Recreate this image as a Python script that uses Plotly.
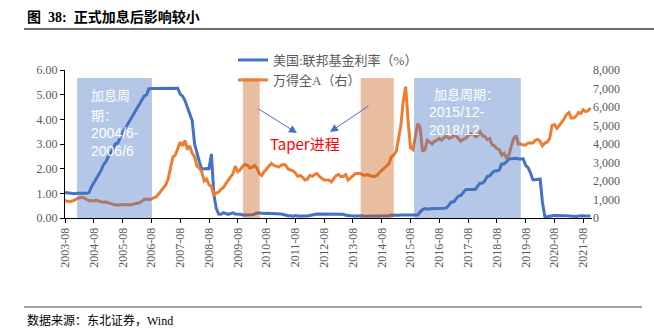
import pandas as pd
import plotly.graph_objects as go

# ---------------- data ----------------
fed_rate = [
    1.03, 1.01, 1.01, 1.00, 0.98,  # 2003 Aug-Dec
    1.00, 1.01, 1.00, 1.00, 1.00, 1.03, 1.26, 1.43, 1.61, 1.76, 1.93, 2.16,  # 2004
    2.28, 2.50, 2.63, 2.79, 3.00, 3.04, 3.26, 3.50, 3.62, 3.78, 4.00, 4.16,  # 2005
    4.29, 4.49, 4.59, 4.79, 4.94, 4.99, 5.24, 5.25, 5.25, 5.25, 5.25, 5.24,  # 2006
    5.25, 5.26, 5.26, 5.25, 5.25, 5.25, 5.26, 5.02, 4.94, 4.76, 4.49, 4.24,  # 2007
    3.94, 2.98, 2.61, 2.28, 1.98, 2.00, 2.01, 2.00, 2.60, 0.97, 0.39, 0.16,  # 2008
    0.15, 0.22, 0.18, 0.15, 0.18, 0.21, 0.16, 0.16, 0.15, 0.12, 0.12, 0.12,  # 2009
    0.11, 0.13, 0.16, 0.20, 0.20, 0.18, 0.18, 0.19, 0.19, 0.19, 0.19, 0.18,  # 2010
    0.17, 0.16, 0.14, 0.10, 0.09, 0.09, 0.07, 0.10, 0.08, 0.07, 0.08, 0.07,  # 2011
    0.08, 0.10, 0.13, 0.14, 0.16, 0.16, 0.16, 0.13, 0.14, 0.16, 0.16, 0.16,  # 2012
    0.14, 0.15, 0.14, 0.15, 0.11, 0.09, 0.09, 0.08, 0.08, 0.09, 0.08, 0.09,  # 2013
    0.07, 0.07, 0.08, 0.09, 0.09, 0.10, 0.09, 0.09, 0.09, 0.09, 0.09, 0.12,  # 2014
    0.11, 0.11, 0.11, 0.12, 0.12, 0.13, 0.13, 0.14, 0.14, 0.12, 0.12, 0.24,  # 2015
    0.34, 0.38, 0.36, 0.37, 0.37, 0.38, 0.39, 0.40, 0.40, 0.40, 0.41, 0.54,  # 2016
    0.65, 0.66, 0.79, 0.90, 0.91, 1.04, 1.15, 1.16, 1.15, 1.15, 1.16, 1.30,  # 2017
    1.41, 1.42, 1.51, 1.69, 1.70, 1.82, 1.91, 1.91, 1.95, 2.19, 2.20, 2.27,  # 2018
    2.40, 2.40, 2.41, 2.42, 2.39, 2.38, 2.40, 2.13, 2.04, 1.83, 1.55, 1.55,  # 2019
    1.55, 1.58, 0.65, 0.05, 0.05, 0.08, 0.09, 0.10, 0.09, 0.09, 0.09, 0.09,  # 2020
    0.09, 0.08, 0.07, 0.07, 0.06, 0.08, 0.10, 0.09, 0.08, 0.08, 0.08,        # 2021 Jan-Nov
]

wind_all_a = [
    940, 900, 880, 920, 960,  # 2003 Aug-Dec
    1050, 1100, 1120, 1080, 990, 930, 950, 920, 960, 900, 880, 850,  # 2004
    870, 820, 780, 760, 700, 720, 700, 730, 740, 710, 700, 720,  # 2005
    760, 800, 820, 900, 1000, 1020, 990, 1030, 1080, 1150, 1300, 1450,  # 2006
    1600, 1800, 2100, 2700, 3300, 3400, 3800, 4100, 3900, 4200, 3700, 3900,  # 2007
    3500, 3300, 2800, 2700, 2500, 2000, 2100, 1800, 1700, 1250, 1350, 1400,  # 2008
    1550, 1650, 1850, 2050, 2200, 2400, 2800, 2500, 2600, 2800, 2900, 2850,  # 2009
    2700, 2750, 2850, 2700, 2400, 2300, 2500, 2650, 2750, 2950, 2850, 2800,  # 2010
    2750, 2850, 2900, 2850, 2650, 2600, 2550, 2450, 2250, 2300, 2200, 2050,  # 2011
    2100, 2300, 2250, 2350, 2400, 2250, 2150, 2050, 2050, 2050, 1950, 2150,  # 2012
    2300, 2350, 2250, 2250, 2350, 2050, 2150, 2300, 2400, 2400, 2400, 2350,  # 2013
    2300, 2350, 2300, 2250, 2250, 2300, 2450, 2550, 2700, 2800, 2950, 3300,  # 2014
    3400, 3600, 4200, 5000, 6300, 7100, 5300, 3800, 3700, 4400, 5100, 4900,  # 2015
    3600, 3700, 4200, 4100, 4000, 4150, 4200, 4300, 4200, 4350, 4450, 4300,  # 2016
    4350, 4450, 4450, 4300, 4150, 4250, 4300, 4450, 4550, 4550, 4400, 4450,  # 2017
    4650, 4450, 4400, 4250, 4300, 3950, 3900, 3750, 3700, 3400, 3500, 3250,  # 2018
    3400, 3900, 4300, 4450, 4000, 4000, 3950, 3950, 4050, 4050, 4050, 4200,  # 2019
    4250, 4150, 3900, 4050, 4100, 4300, 5000, 5050, 4850, 5000, 5150, 5350,  # 2020
    5600, 5700, 5400, 5400, 5500, 5700, 5650, 5850, 5750, 5800, 5950,        # 2021 Jan-Nov
]

tick_labels = [f"{y}-08" for y in range(2003, 2022)]
tick_dates = [f"{y}-08-01" for y in range(2003, 2022)]

hike_periods = [("2004-01-01", "2006-08-08"), ("2015-09-15", "2019-06-01")]
taper_periods = [("2009-10-06", "2010-05-06"), ("2013-11-08", "2015-01-01")]

dates = pd.date_range("2003-08-01", periods=len(fed_rate), freq="MS")

# ---------------- figure ----------------
W, H = 654, 328
L, R, T, B = 65, 62, 70, 110
PW, PH = W - L - R, H - T - B


def px(x):
    return (x - L) / PW


def py(y):
    return (H - B - y) / PH


SERIF = "Liberation Serif, Noto Sans CJK SC, serif"
CJK = "Noto Sans CJK SC, sans-serif"
SANS = "Liberation Sans, Arial, sans-serif"
GREY = "#595959"

fig = go.Figure()
fig.add_trace(go.Scatter(x=dates, y=fed_rate, name="美国:联邦基金利率（%）", legend="legend",
                         mode="lines", line=dict(color="#4472C4", width=3)))
fig.add_trace(go.Scatter(x=dates, y=wind_all_a, name="万得全A（右）", yaxis="y2", legend="legend2",
                         mode="lines", line=dict(color="#ED7D31", width=3)))

shapes = []
for a, b in hike_periods:
    shapes.append(dict(type="rect", xref="x", yref="y", x0=a, x1=b, y0=0, y1=5.68,
                       fillcolor="rgba(68,114,196,0.4)", line=dict(width=0), layer="above"))
for a, b in taper_periods:
    shapes.append(dict(type="rect", xref="x", yref="y", x0=a, x1=b, y0=0, y1=5.68,
                       fillcolor="rgba(197,90,17,0.4)", line=dict(width=0), layer="above"))
# header and footer rules
shapes.append(dict(type="line", xref="paper", yref="paper", x0=px(24), x1=px(654),
                   y0=py(29), y1=py(29), line=dict(color="#404040", width=1.5)))
shapes.append(dict(type="line", xref="paper", yref="paper", x0=px(24), x1=px(642),
                   y0=py(307), y1=py(307), line=dict(color="#404040", width=1)))

annotations = []


def text(x, y, s, size=14, color="white", family=CJK, anchor="left"):
    annotations.append(dict(x=px(x), y=py(y), xref="paper", yref="paper", text=s,
                            showarrow=False, xanchor=anchor, yanchor="middle",
                            font=dict(size=size, color=color, family=family)))


text(25, 17, "<b>图  38:  正式加息后影响较小</b>", size=14, color="black", family=SERIF)
text(25, 320, "数据来源：东北证券，Wind", size=12, color="black", family=SERIF)

text(89, 94, "加息周", 13)
text(89, 114, "期：", 13)
text(89, 133, "2004/6-", 14, family=SANS)
text(89, 151, "2006/6", 14, family=SANS)
text(432, 93, "加息周期：", 13)
text(427, 112, "2015/12-", 14, family=SANS)
text(427, 130, "2018/12", 14, family=SANS)
text(268, 143, "Taper进程", 15, color="red")

for (hx, hy, tx, ty) in [(297, 133, 257, 108), (330, 132, 370, 105)]:
    annotations.append(dict(x=px(hx), y=py(hy), xref="paper", yref="paper", text="",
                            showarrow=True, ax=tx - hx, ay=ty - hy, axref="pixel", ayref="pixel",
                            arrowhead=2, arrowsize=1.6, arrowwidth=1, arrowcolor="#4472C4"))

legend_style = dict(xanchor="left", yanchor="middle", bgcolor="rgba(0,0,0,0)",
                    font=dict(size=13, color=GREY, family=SERIF), itemwidth=30,
                    borderwidth=0)

fig.update_layout(
    width=W, height=H,
    margin=dict(l=L, r=R, t=T, b=B),
    paper_bgcolor="white", plot_bgcolor="white",
    showlegend=True,
    legend=dict(x=px(233), y=py(60), **legend_style),
    legend2=dict(x=px(233), y=py(80), **legend_style),
    xaxis=dict(type="date", range=["2003-08-01", "2021-11-20"],
               tickvals=tick_dates, ticktext=tick_labels, tickangle=-90,
               tickfont=dict(size=12, color=GREY, family=SERIF),
               showline=True, linecolor="black", linewidth=1,
               ticks="outside", ticklen=4, tickcolor="black",
               showgrid=False, zeroline=False),
    yaxis=dict(range=[0, 6], tickvals=[0, 1, 2, 3, 4, 5, 6],
               ticktext=[f"{v:.2f}" for v in range(7)],
               tickfont=dict(size=12, color=GREY, family=SERIF),
               showline=True, linecolor="black", linewidth=1,
               ticks="outside", ticklen=4, tickcolor="black",
               showgrid=False, zeroline=False),
    yaxis2=dict(range=[0, 8000], overlaying="y", side="right",
                tickvals=list(range(0, 8001, 1000)),
                ticktext=[f"{v:,}" for v in range(0, 8001, 1000)],
                tickfont=dict(size=12, color=GREY, family=SERIF),
                showline=False, showgrid=False, zeroline=False, ticks=""),
    shapes=shapes,
    annotations=annotations,
)

fig.write_html("out.html")
